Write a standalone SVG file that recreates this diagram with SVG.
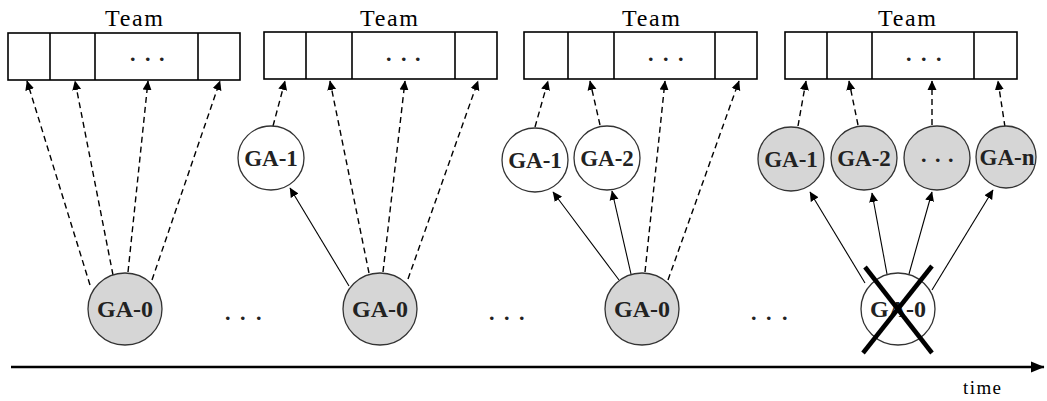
<svg xmlns="http://www.w3.org/2000/svg" width="1047" height="401" viewBox="0 0 1047 401">
<style>
.box{fill:#fff;stroke:#000;stroke-width:1.6}
.div{stroke:#000;stroke-width:1.6}
.team{font-family:"Liberation Serif",serif;font-size:24px;fill:#000}
.lbl{font-family:"Liberation Serif",serif;font-size:23px;font-weight:bold;fill:#222;text-anchor:middle}
.big{font-size:24px}
.dots{font-family:"Liberation Serif",serif;font-size:22px;font-weight:bold;fill:#222}
.gray{fill:#d6d6d6;stroke:#333;stroke-width:1.3}
.white{fill:#fff;stroke:#333;stroke-width:1.3}
.dash{fill:none;stroke:#000;stroke-width:1.4;stroke-dasharray:6 4;marker-end:url(#ah)}
.solid{fill:none;stroke:#000;stroke-width:1.1;marker-end:url(#ah)}
</style>
<defs>
<marker id="ah" markerUnits="userSpaceOnUse" markerWidth="10" markerHeight="10" viewBox="0 0 10 10" refX="9" refY="5" orient="auto">
<path d="M0,0.5 L9.5,5 L0,9.5 Z" fill="#000"/>
</marker>
<marker id="tah" markerUnits="userSpaceOnUse" markerWidth="14" markerHeight="12" viewBox="0 0 14 12" refX="13" refY="6" orient="auto">
<path d="M0,0.5 L13.5,6 L0,11.5 Z" fill="#000"/>
</marker>
</defs>

<!-- Team boxes -->
<g id="team1">
<text class="team" x="105" y="26" textLength="58" lengthAdjust="spacing">Team</text>
<rect class="box" x="8" y="33" width="232" height="47"/>
<line class="div" x1="50" y1="33" x2="50" y2="80"/><line class="div" x1="95" y1="33" x2="95" y2="80"/><line class="div" x1="198" y1="33" x2="198" y2="80"/>
<text class="dots" x="130 145 159" y="61">...</text>
</g>
<g id="team2">
<text class="team" x="360" y="26" textLength="58" lengthAdjust="spacing">Team</text>
<rect class="box" x="264" y="32" width="233" height="47"/>
<line class="div" x1="306" y1="32" x2="306" y2="79"/><line class="div" x1="352" y1="32" x2="352" y2="79"/><line class="div" x1="455" y1="32" x2="455" y2="79"/>
<text class="dots" x="386 401 415" y="61">...</text>
</g>
<g id="team3">
<text class="team" x="622" y="26" textLength="58" lengthAdjust="spacing">Team</text>
<rect class="box" x="524" y="32" width="233" height="47"/>
<line class="div" x1="568" y1="32" x2="568" y2="79"/><line class="div" x1="614" y1="32" x2="614" y2="79"/><line class="div" x1="715" y1="32" x2="715" y2="79"/>
<text class="dots" x="648 663 678" y="61">...</text>
</g>
<g id="team4">
<text class="team" x="878" y="26" textLength="58" lengthAdjust="spacing">Team</text>
<rect class="box" x="785" y="32" width="232" height="47"/>
<line class="div" x1="827" y1="32" x2="827" y2="79"/><line class="div" x1="872" y1="32" x2="872" y2="79"/><line class="div" x1="974" y1="32" x2="974" y2="79"/>
<text class="dots" x="906 921 936" y="61">...</text>
</g>

<!-- Connectors -->
<g id="connectors">
<!-- panel 1 -->
<line class="dash" x1="90" y1="285" x2="27" y2="81"/>
<line class="dash" x1="113" y1="275" x2="75" y2="81"/>
<line class="dash" x1="128" y1="272" x2="148" y2="81"/>
<line class="dash" x1="152" y1="280" x2="220" y2="81"/>
<!-- panel 2 -->
<line class="dash" x1="273" y1="126" x2="285" y2="81"/>
<line class="dash" x1="369" y1="273" x2="330" y2="81"/>
<line class="dash" x1="383" y1="272" x2="405" y2="81"/>
<line class="dash" x1="408" y1="279" x2="478" y2="81"/>
<line class="solid" x1="349" y1="286" x2="290" y2="188"/>
<!-- panel 3 -->
<line class="dash" x1="535" y1="127" x2="548" y2="81"/>
<line class="dash" x1="600" y1="125" x2="590" y2="81"/>
<line class="dash" x1="645" y1="272" x2="665" y2="81"/>
<line class="dash" x1="668" y1="280" x2="739" y2="81"/>
<line class="solid" x1="619" y1="280" x2="553" y2="192"/>
<line class="solid" x1="631" y1="274" x2="612" y2="191"/>
<!-- panel 4 -->
<line class="dash" x1="798" y1="126" x2="806" y2="81"/>
<line class="dash" x1="858" y1="125" x2="849" y2="81"/>
<line class="dash" x1="932" y1="125" x2="932" y2="81"/>
<line class="dash" x1="1005" y1="127" x2="998" y2="81"/>
<line class="solid" x1="865" y1="283" x2="810" y2="192"/>
<line class="solid" x1="887" y1="274" x2="872" y2="193"/>
<line class="solid" x1="909" y1="274" x2="932" y2="192"/>
<line class="solid" x1="932" y1="290" x2="993" y2="190"/>
<!-- time axis -->
<line x1="11" y1="367" x2="1044" y2="367" stroke="#000" stroke-width="2.5" marker-end="url(#tah)"/>
</g>

<!-- Panel 1 -->
<g id="p1-ga0"><ellipse class="gray" cx="125" cy="309" rx="37" ry="36"/><text class="lbl big" x="125" y="317">GA-0</text></g>
<!-- Panel 2 -->
<g id="p2-ga0"><ellipse class="gray" cx="380" cy="309" rx="37" ry="36"/><text class="lbl big" x="380" y="317">GA-0</text></g>
<g id="p2-ga1"><ellipse class="white" cx="271" cy="158" rx="33" ry="32"/><text class="lbl" x="271" y="166">GA-1</text></g>
<!-- Panel 3 -->
<g id="p3-ga0"><ellipse class="gray" cx="642" cy="309" rx="37" ry="36"/><text class="lbl big" x="642" y="317">GA-0</text></g>
<g id="p3-ga1"><ellipse class="white" cx="535" cy="160" rx="33" ry="32"/><text class="lbl" x="535" y="168">GA-1</text></g>
<g id="p3-ga2"><ellipse class="white" cx="607" cy="158" rx="33" ry="32"/><text class="lbl" x="607" y="166">GA-2</text></g>
<!-- Panel 4 -->
<g id="p4-ga0"><ellipse class="white" cx="898" cy="309" rx="37" ry="36"/><text class="lbl big" x="898" y="317">GA-0</text>
<line x1="865" y1="267" x2="932" y2="353" stroke="#000" stroke-width="4.5"/>
<line x1="932" y1="266" x2="863" y2="353" stroke="#000" stroke-width="4.5"/></g>
<g id="p4-ga1"><ellipse class="gray" cx="791" cy="159" rx="33" ry="32"/><text class="lbl" x="791" y="167">GA-1</text></g>
<g id="p4-ga2"><ellipse class="gray" cx="864" cy="158" rx="33" ry="32"/><text class="lbl" x="864" y="166">GA-2</text></g>
<g id="p4-gadots"><ellipse class="gray" cx="937" cy="158" rx="33" ry="32"/><text class="dots" x="921 935 948" y="162">...</text></g>
<g id="p4-gan"><ellipse class="gray" cx="1006" cy="157" rx="30" ry="31"/><text class="lbl" x="1007" y="165">GA-n</text></g>

<!-- Ellipses between panels -->
<g id="gap-dots">
<text class="dots" x="225 240 256" y="320">...</text>
<text class="dots" x="489 504 519" y="320">...</text>
<text class="dots" x="751 766 782" y="320">...</text>
</g>
<text id="time-label" x="963" y="394" font-family="Liberation Serif, serif" font-size="19" textLength="38" lengthAdjust="spacing">time</text>
</svg>
